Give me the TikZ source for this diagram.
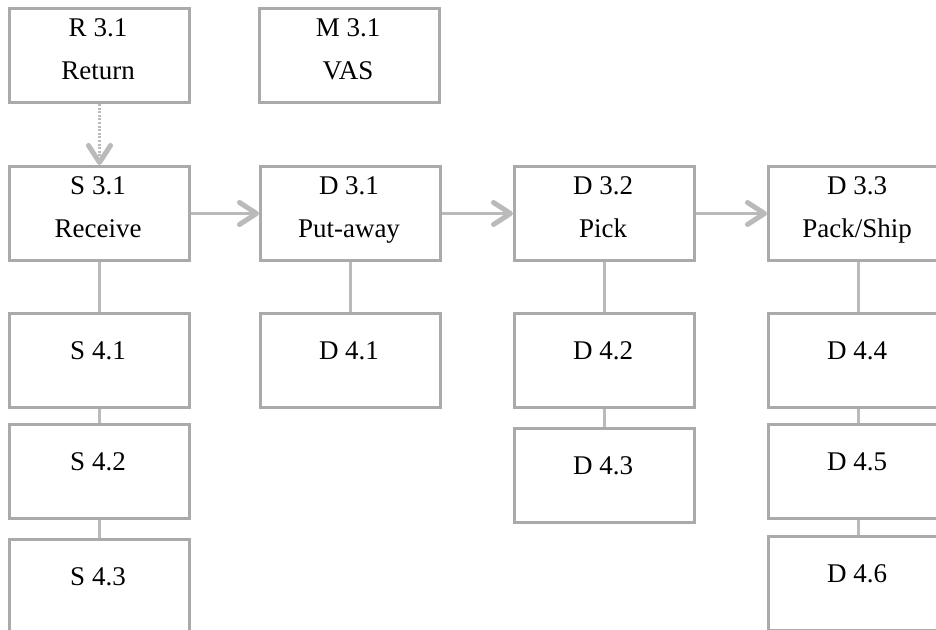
\documentclass[tikz,border=0pt]{standalone}
\usepackage{fontspec}
\setmainfont{Liberation Serif}
\usetikzlibrary{arrows.meta}
\definecolor{framegray}{RGB}{170,170,170}
\definecolor{wiregray}{RGB}{186,186,186}
\begin{document}
\begin{tikzpicture}[x=1pt,y=-1pt,
  box/.style={draw=framegray, line width=3pt, fill=white,
    minimum width=180pt, minimum height=94pt, inner sep=0pt, anchor=north west},
  lbl/.style={anchor=base, inner sep=0pt, font=\fontsize{27}{32}\selectfont},
  wire/.style={draw=wiregray, line width=2.2pt},
  flow/.style={wire, -{Straight Barb[length=17pt,width=22pt,line width=5pt,round]}},
  optflow/.style={flow, dash pattern=on 2pt off 1.6pt}]
\useasboundingbox (0,0) rectangle (936,629);
\clip (0,0) rectangle (936,629);

% top row
\node[box] (r31) at (8,7) {};
\node[box] (m31) at (258,7) {};
% process row
\node[box] (s31) at (8,165) {};
\node[box] (d31) at (259,165) {};
\node[box] (d32) at (513,165) {};
\node[box] (d33) at (767,165) {};
% level-4 boxes
\node[box] (s41) at (8,312) {};
\node[box] (s42) at (8,423) {};
\node[box] (s43) at (8,538) {};
\node[box] (d41) at (259,312) {};
\node[box] (d42) at (513,312) {};
\node[box] (d43) at (513,427) {};
\node[box] (d44) at (767,312) {};
\node[box] (d45) at (767,423) {};
\node[box] (d46) at (767,535) {};

% labels
\node[lbl] (r31a) at (98,36) {R 3.1};
\node[lbl] (r31b) at (98,79) {Return};
\node[lbl] (m31a) at (348,36) {M 3.1};
\node[lbl] (m31b) at (348,79) {VAS};
\node[lbl] (s31a) at (98,194) {S 3.1};
\node[lbl] (s31b) at (98,237) {Receive};
\node[lbl] (d31a) at (349,194) {D 3.1};
\node[lbl] (d31b) at (349,237) {Put-away};
\node[lbl] (d32a) at (603,194) {D 3.2};
\node[lbl] (d32b) at (603,237) {Pick};
\node[lbl] (d33a) at (857,194) {D 3.3};
\node[lbl] (d33b) at (857,237) {Pack/Ship};
\node[lbl] (s41a) at (98,359) {S 4.1};
\node[lbl] (s42a) at (98,470) {S 4.2};
\node[lbl] (s43a) at (98,585) {S 4.3};
\node[lbl] (d41a) at (349,359) {D 4.1};
\node[lbl] (d42a) at (603,359) {D 4.2};
\node[lbl] (d43a) at (603,474) {D 4.3};
\node[lbl] (d44a) at (857,359) {D 4.4};
\node[lbl] (d45a) at (857,470) {D 4.5};
\node[lbl] (d46a) at (857,582) {D 4.6};

% flow between process steps
\draw[optflow] (r31.south) -- (s31.north);
\draw[flow] (s31.east) -- (d31.west);
\draw[flow] (d31.east) -- (d32.west);
\draw[flow] (d32.east) -- (d33.west);

% decomposition links
\draw[wire] (s31.south) -- (s41.north);
\draw[wire] (s41.south) -- (s42.north);
\draw[wire] (s42.south) -- (s43.north);
\draw[wire] (d31.south) -- (d41.north);
\draw[wire] (d32.south) -- (d42.north);
\draw[wire] (d42.south) -- (d43.north);
\draw[wire] (d33.south) -- (d44.north);
\draw[wire] (d44.south) -- (d45.north);
\draw[wire] (d45.south) -- (d46.north);
\end{tikzpicture}
\end{document}
